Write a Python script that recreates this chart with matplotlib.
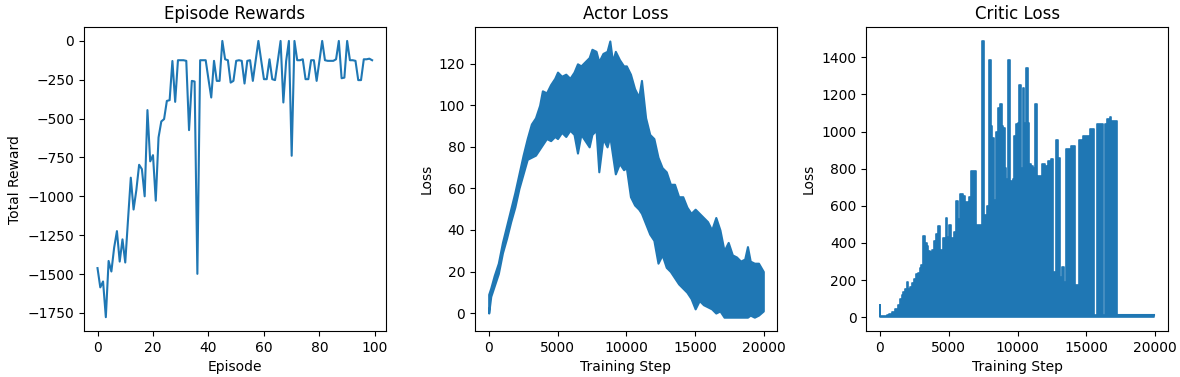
import matplotlib
matplotlib.use("Agg")
import matplotlib.pyplot as plt
import numpy as np

# Episode rewards (one value per episode)
episodes = list(range(100))
rewards = [-1462, -1586, -1548, -1778, -1416, -1484, -1330, -1224, -1420, -1277,
           -1426, -1150, -880, -1085, -960, -797, -825, -1000, -445, -775,
           -735, -1028, -621, -518, -503, -386, -381, -129, -392, -124,
           -124, -124, -128, -574, -257, -261, -1499, -124, -124, -124,
           -246, -364, -128, -257, -257, 0, -118, -124, -268, -257,
           -128, -124, -128, -274, -128, -124, -257, -128, 0, -124,
           -246, -246, -118, -246, -252, -128, 0, -396, -130, 0,
           -739, 0, -124, -124, -118, -246, -246, -124, -124, -257,
           -128, 0, -124, -128, -128, -128, -118, 0, -240, -236,
           0, -124, -124, -128, -252, -252, -118, -118, -114, -124]

# Actor loss: band (upper / lower edge of the noisy trace)
actor_steps = [0, 150, 400, 700, 1000, 1300, 1600, 1900, 2200, 2500,
               2800, 3100, 3400, 3700, 3900, 4200, 4500, 4800, 5000, 5300,
               5600, 5900, 6200, 6450, 6700, 7000, 7300, 7500, 7800, 8000,
               8300, 8600, 8800, 9000, 9200, 9500, 9800, 10000, 10300, 10600,
               10900, 11100, 11400, 11700, 12000, 12300, 12600, 12900, 13200, 13500,
               13800, 14100, 14400, 14700, 15000, 15300, 15600, 15900, 16200, 16500,
               16800, 17100, 17400, 17700, 18000, 18300, 18600, 18800, 19000, 19300,
               19600, 19950]
actor_upper = [9, 12, 18, 24, 34, 42, 50, 58, 67, 76,
               84, 91, 94, 100, 107, 106, 110, 113, 116, 114,
               115, 113, 116, 120, 119, 121, 123, 127, 126, 121,
               125, 126, 131, 121, 126, 122, 119, 119, 115, 108,
               104, 112, 94, 86, 84, 75, 70, 68, 62, 62,
               56, 56, 51, 48, 50, 48, 46, 44, 40, 46,
               40, 30, 34, 28, 27, 25, 26, 32, 25, 24,
               24, 20]
actor_lower = [0, 8, 13, 19, 29, 36, 44, 51, 60, 67,
               74, 75, 76, 79, 81, 84, 83, 85, 84, 87,
               85, 88, 86, 77, 86, 83, 80, 86, 88, 68,
               84, 80, 85, 76, 67, 72, 69, 70, 56, 52,
               50, 48, 43, 38, 35, 24, 28, 22, 20, 17,
               14, 12, 10, 7, 2, 6, 4, 3, 2, 0,
               1, -2, -2, -2, -2, -2, -2, -2, -1, -2,
               -1, 1]

# Critic loss: peak height of the spikes from zero
critic_steps = [0, 40, 500, 700, 900, 1100, 1300, 1450, 1600, 1700,
                1850, 1950, 2050, 2200, 2350, 2500, 2650, 2800, 2900, 3000,
                3100, 3250, 3400, 3500, 3650, 3800, 3900, 4000, 4100, 4250,
                4400, 4600, 4800, 4900, 5050, 5200, 5350, 5550, 5700, 5850,
                6050, 6200, 6400, 6500, 6650, 6900, 6950, 7450, 7530, 7600,
                7750, 7950, 8050, 8180, 8300, 8420, 8550, 8700, 8850, 8950,
                9080, 9200, 9330, 9450, 9550, 9700, 9780, 9880, 10000, 10130,
                10250, 10370, 10500, 10620, 10740, 10860, 11000, 11150, 11250, 11400,
                11500, 11750, 12000, 12120, 12250, 12400, 12560, 12800, 12950, 13100,
                13250, 13400, 13500, 13850, 14150, 14450, 14700, 14750, 15250, 15300,
                15550, 15750, 16200, 16320, 16500, 16700, 16820, 17200, 19950]
critic_peak = [64, 8, 10, 17, 28, 45, 65, 98, 120, 135,
               150, 190, 150, 165, 185, 205, 230, 240, 265, 280,
               435, 400, 385, 355, 350, 360, 410, 355, 450, 490,
               360, 425, 535, 430, 495, 425, 460, 625, 530, 665,
               655, 620, 460, 650, 785, 790, 495, 1488, 810, 550,
               600, 1386, 1030, 965, 630, 1000, 1125, 1148, 1030, 1020,
               806, 743, 1386, 716, 734, 743, 975, 1038, 1047, 1252,
               806, 1234, 1047, 1342, 1047, 824, 815, 806, 1148, 663,
               761, 824, 815, 591, 841, 850, 243, 957, 859, 216,
               270, 189, 904, 922, 171, 957, 10, 975, 10, 1016,
               10, 1038, 10, 1038, 1065, 1077, 1059, 10, 10]

fig, axes = plt.subplots(1, 3, figsize=(11.8, 3.77), dpi=100)
plt.subplots_adjust(left=0.071, right=0.99, bottom=0.122, top=0.928, wspace=0.295)
color = "#1f77b4"

ax = axes[0]
ax.plot(episodes, rewards, color=color)
ax.set_title("Episode Rewards")
ax.set_xlabel("Episode")
ax.set_ylabel("Total Reward")

ax = axes[1]
ax.fill_between(actor_steps, actor_lower, actor_upper,
                color=color, linewidth=1.5, edgecolor=color)
ax.set_title("Actor Loss")
ax.set_xlabel("Training Step")
ax.set_ylabel("Loss")

ax = axes[2]
ax.fill_between(critic_steps, 0, critic_peak, step="post",
                color=color, linewidth=1.2, edgecolor=color)
ax.plot(critic_steps[-2:], critic_peak[-2:], color=color)
ax.set_title("Critic Loss")
ax.set_xlabel("Training Step")
ax.set_ylabel("Loss")

fig.savefig("out.png", dpi=100)
